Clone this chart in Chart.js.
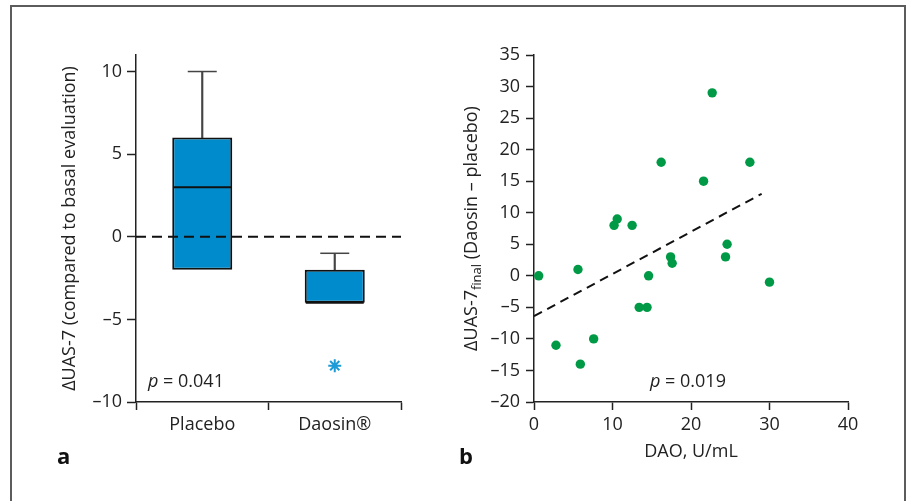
<!DOCTYPE html>
<html>
<head>
<meta charset="utf-8">
<script src="https://cdn.jsdelivr.net/npm/chart.js@4.4.1/dist/chart.umd.min.js"></script>
<style>
  body { margin: 0; background: #fff; width: 909px; height: 501px; overflow: hidden; position: relative; font-family: "Open Sans", sans-serif; }
  #frame { position: absolute; left: 10px; top: 5px; width: 896px; height: 600px; border: 2px solid #5c5c5c; box-sizing: border-box; }
  canvas { position: absolute; top: 0; }
  .panel { position: absolute; font-weight: bold; font-size: 22px; color: #111; line-height: 22px; }
  .pval { position: absolute; font-size: 18px; color: #222; line-height: 18px; white-space: nowrap; }
</style>
</head>
<body>
<div id="frame"></div>
<canvas id="boxChart" width="450" height="501" style="left:0"></canvas>
<canvas id="scatterChart" width="459" height="501" style="left:450px"></canvas>
<div class="panel" style="left:57px;top:444px">a</div>
<div class="panel" style="left:459px;top:444px">b</div>
<div class="pval" style="left:148px;top:371px"><i>p</i> = 0.041</div>
<div class="pval" style="left:650px;top:371px"><i>p</i> = 0.019</div>

<script>
// panel a: box plot
var groups = ["Placebo", "Daosin\u00ae"];
var q1 = [-2, -4];
var q3 = [6, -2];
var medians = [3, -4];
var whiskerTop = [10, -1];
var starMark = [null, -7.8];
var ticksA = [-10, -5, 0, 5, 10];

// panel b: scatter + fit
var daoValues = [0.6, 2.8, 5.6, 5.9, 7.6, 10.2, 10.6, 12.5, 13.4, 14.4, 14.6, 16.2, 17.4, 17.6, 21.6, 22.7, 24.4, 24.6, 27.5, 30.0];
var uasDiff = [0, -11, 1, -14, -10, 8, 9, 8, -5, -5, 0, 18, 3, 2, 15, 29, 3, 5, 18, -1];
var fitX = [0, 29];
var fitY = [-6.4, 13];
var ticksBy = [-20, -15, -10, -5, 0, 5, 10, 15, 20, 25, 30, 35];
var ticksBx = [0, 10, 20, 30, 40];

var FONT = "'Open Sans', sans-serif";
var INK = "#222";

function dash(v) {
	return v < 0 ? "\u2013" + Math.abs(v) : String(v);
}

function fixTicks(list) {
	return function(scale) {
		scale.ticks = list.map(function(v){ return {value: v}; });
	};
}

// dashed reference line at zero, drawn over the boxes
var zeroLine = {
	id: "zeroLine",
	afterDatasetsDraw: function(chart) {
		var ctx = chart.ctx, area = chart.chartArea;
		var y = chart.scales.y.getPixelForValue(0);
		ctx.save();
		ctx.strokeStyle = "#111";
		ctx.lineWidth = 2;
		ctx.setLineDash([10, 6]);
		ctx.beginPath();
		ctx.moveTo(area.left, y);
		ctx.lineTo(area.right, y);
		ctx.stroke();
		ctx.restore();
	}
};

new Chart(document.getElementById("boxChart"), {
	type: "bar",
	data: {
		labels: groups,
		datasets: [
			{
				label: "whisker",
				data: groups.map(function(g, i){ return [q3[i], whiskerTop[i]]; }),
				backgroundColor: "#444",
				barThickness: 1.5,
				grouped: false,
				order: 3
			},
			{
				label: "box",
				data: groups.map(function(g, i){ return [q1[i], q3[i]]; }),
				backgroundColor: "#008ccc",
				borderColor: "#111",
				borderWidth: 2,
				borderSkipped: false,
				barPercentage: 0.453,
				categoryPercentage: 1,
				grouped: false,
				order: 2
			},
			{
				type: "line",
				label: "median",
				data: medians,
				showLine: false,
				pointStyle: "line",
				pointRadius: 29,
				pointBorderWidth: 2,
				pointBorderColor: "#111",
				order: 1
			},
			{
				type: "line",
				label: "cap",
				data: whiskerTop,
				showLine: false,
				pointStyle: "line",
				pointRadius: 14.5,
				pointBorderWidth: 1.5,
				pointBorderColor: "#444",
				order: 1
			},
			{
				type: "line",
				label: "significance",
				data: starMark,
				showLine: false,
				pointStyle: "star",
				pointRadius: 6.5,
				pointBorderWidth: 2,
				pointBorderColor: "#1e9ad6",
				order: 0
			}
		]
	},
	options: {
		responsive: false,
		animation: false,
		events: [],
		layout: { padding: { left: 0, top: 55, right: 49, bottom: 59 } },
		plugins: { legend: { display: false }, tooltip: { enabled: false } },
		scales: {
			x: {
				afterFit: function(s){ s.height = 40; },
				grid: { drawOnChartArea: false, tickLength: 8, tickColor: INK, tickWidth: 1.5 },
				border: { color: INK, width: 1.5 },
				ticks: { color: INK, padding: 4, font: { family: FONT, size: 18 } }
			},
			y: {
				min: -10,
				max: 11,
				afterFit: function(s){ s.width = 136; },
				afterBuildTicks: fixTicks(ticksA),
				grid: { drawOnChartArea: false, tickLength: 9, tickColor: INK, tickWidth: 1.5 },
				border: { color: INK, width: 1.5 },
				ticks: { color: INK, padding: 5, font: { family: FONT, size: 18 }, callback: dash },
				title: {
					display: true,
					text: "\u0394UAS-7 (compared to basal evaluation)",
					color: INK,
					font: { family: FONT, size: 18 },
					padding: { top: 59, bottom: 0 }
				}
			}
		}
	},
	plugins: [zeroLine]
});

// y title with subscript for panel b
var subTitle = {
	id: "subTitle",
	afterDraw: function(chart) {
		var ctx = chart.ctx, area = chart.chartArea;
		var big = "18px " + FONT, small = "13px " + FONT;
		var p1 = "\u0394UAS-7", p2 = "final", p3 = " (Daosin \u2013 placebo)";
		ctx.save();
		ctx.font = big;
		var w1 = ctx.measureText(p1).width, w3 = ctx.measureText(p3).width;
		ctx.font = small;
		var w2 = ctx.measureText(p2).width;
		var total = w1 + w2 + w3;
		ctx.translate(22, (area.top + area.bottom) / 2);
		ctx.rotate(-Math.PI / 2);
		ctx.fillStyle = INK;
		ctx.textBaseline = "middle";
		ctx.textAlign = "left";
		var x = -total / 2;
		ctx.font = big;
		ctx.fillText(p1, x, 0);
		ctx.font = small;
		ctx.fillText(p2, x + w1, 5);
		ctx.font = big;
		ctx.fillText(p3, x + w1 + w2, 0);
		ctx.restore();
	}
};

new Chart(document.getElementById("scatterChart"), {
	type: "scatter",
	data: {
		datasets: [
			{
				label: "patients",
				data: daoValues.map(function(x, i){ return {x: x, y: uasDiff[i]}; }),
				pointRadius: 4.7,
				pointBackgroundColor: "#009a46",
				pointBorderWidth: 0,
				order: 1
			},
			{
				type: "line",
				label: "fit",
				data: fitX.map(function(x, i){ return {x: x, y: fitY[i]}; }),
				borderColor: "#111",
				borderWidth: 2,
				borderDash: [9, 6],
				pointRadius: 0,
				order: 0
			}
		]
	},
	options: {
		responsive: false,
		animation: false,
		events: [],
		layout: { padding: { left: 0, top: 55, right: 61, bottom: 37 } },
		plugins: { legend: { display: false }, tooltip: { enabled: false } },
		scales: {
			x: {
				type: "linear",
				min: 0,
				max: 40,
				afterFit: function(s){ s.height = 62; },
				afterBuildTicks: fixTicks(ticksBx),
				grid: { drawOnChartArea: false, tickLength: 8, tickColor: INK, tickWidth: 1.5 },
				border: { color: INK, width: 1.5 },
				ticks: { color: INK, padding: 4, font: { family: FONT, size: 18 } },
				title: {
					display: true,
					text: "DAO, U/mL",
					color: INK,
					font: { family: FONT, size: 18 },
					padding: { top: 0, bottom: 1 }
				}
			},
			y: {
				min: -20,
				max: 35,
				afterFit: function(s){ s.width = 84; },
				afterBuildTicks: fixTicks(ticksBy),
				grid: { drawOnChartArea: false, tickLength: 8, tickColor: INK, tickWidth: 1.5 },
				border: { color: INK, width: 1.5 },
				ticks: { color: INK, padding: 6, font: { family: FONT, size: 18 }, callback: dash }
			}
		}
	},
	plugins: [subTitle]
});
</script>
</body>
</html>
